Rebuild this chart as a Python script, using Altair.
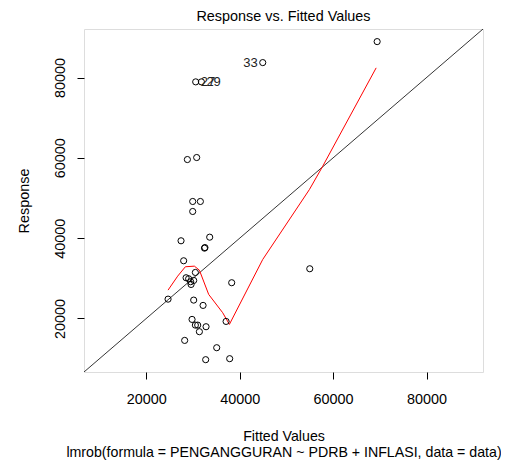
import altair as alt
import pandas as pd

# Observed points (fitted value, response)
fitted = [69430, 44930, 30570, 31790, 28790, 30780, 29930, 31570, 29930, 33570,
          27430, 32450, 32550, 27990, 30500, 28510, 29060, 29490, 30140, 29580,
          38280, 55000, 24650, 30140, 32150, 29790, 30500, 31000, 32790, 31360,
          37080, 28210, 35070, 32710, 37850]
response = [88960, 83730, 78930, 78930, 59580, 60080, 49130, 49130, 46640, 40240,
            39340, 37500, 37650, 34360, 31450, 30130, 29880, 29140, 29460, 28460,
            28890, 32370, 24800, 24560, 23240, 19750, 18330, 18330, 17930, 16690,
            19250, 14520, 12700, 9720, 9970]
point_ids = ["", "33", "27", "29", "", "", "", "", "", "",
             "", "", "", "", "", "", "", "", "", "",
             "", "", "", "", "", "", "", "", "", "",
             "", "", "", "", ""]
label_side = ["", "left", "right", "right", "", "", "", "", "", "",
              "", "", "", "", "", "", "", "", "", "",
              "", "", "", "", "", "", "", "", "", "",
              "", "", "", "", ""]

# Smoother (red)
smooth_x = [24650, 26710, 28360, 30290, 31360, 33350, 36350, 37790, 44930, 54930, 57780, 69220]
smooth_y = [27050, 30530, 32870, 33020, 32020, 25980, 21420, 18510, 34690, 52120, 57920, 82420]

axis_lo, axis_hi = 6650, 92100
tick_vals = [20000, 40000, 60000, 80000]

pts = pd.DataFrame({"fitted": fitted, "response": response, "id": point_ids, "side": label_side})
smooth = pd.DataFrame({"fitted": smooth_x, "response": smooth_y})
diag = pd.DataFrame({"fitted": [axis_lo, axis_hi], "response": [axis_lo, axis_hi]})

FONT = "Liberation Sans"
FS = 14.4

xscale = alt.Scale(domain=[axis_lo, axis_hi], nice=False, zero=False)
yscale = alt.Scale(domain=[axis_lo, axis_hi], nice=False, zero=False)

xaxis = alt.Axis(values=tick_vals, format="d", grid=False, tickSize=7, labelFontSize=FS,
                 labelPadding=13, labelColor="black", tickColor="black", domain=False,
                 title=["Fitted Values", "lmrob(formula = PENGANGGURAN ~ PDRB + INFLASI, data = data)"],
                 titleFontSize=14.2, titleFontWeight="normal", titleColor="black",
                 titleX=199.5, titleY=68, titleBaseline="alphabetic", titleLineHeight=16,
                 titleAlign="center", labelFont=FONT, titleFont=FONT, labelFlush=False)
yaxis = alt.Axis(values=tick_vals, format="d", grid=False, tickSize=7, labelFontSize=FS,
                 labelPadding=10, labelColor="black", tickColor="black", domain=False,
                 labelAngle=270, labelAlign="center", labelBaseline="bottom",
                 title="Response", titleFontSize=FS, titleFontWeight="normal", titleColor="black",
                 titleX=-53, titleY=171.5, titleAngle=270, titleAlign="center",
                 titleBaseline="bottom", labelFont=FONT, titleFont=FONT, labelFlush=False)

base_x = alt.X("fitted:Q", scale=xscale, axis=xaxis)
base_y = alt.Y("response:Q", scale=yscale, axis=yaxis)

diag_line = alt.Chart(diag).mark_line(color="black", strokeWidth=0.8, clip=True).encode(
    x=base_x, y=base_y)

points = alt.Chart(pts).mark_point(shape="circle", filled=False, color="black",
                                   size=38, strokeWidth=1, opacity=1).encode(
    x=alt.X("fitted:Q", scale=xscale), y=alt.Y("response:Q", scale=yscale))

smooth_line = alt.Chart(smooth).mark_line(color="red", strokeWidth=1).encode(
    x=alt.X("fitted:Q", scale=xscale), y=alt.Y("response:Q", scale=yscale))

lab_left = alt.Chart(pts).transform_filter(alt.datum.side == "left").mark_text(
    align="right", baseline="middle", dx=-5, fontSize=13, font=FONT, color="#222").encode(
    x=alt.X("fitted:Q", scale=xscale), y=alt.Y("response:Q", scale=yscale), text="id:N")

lab_right = alt.Chart(pts).transform_filter(alt.datum.side == "right").mark_text(
    align="left", baseline="middle", dx=5, fontSize=13, font=FONT, color="#222").encode(
    x=alt.X("fitted:Q", scale=xscale), y=alt.Y("response:Q", scale=yscale), text="id:N")

chart = alt.layer(diag_line, smooth_line, points, lab_left, lab_right).properties(
    width=399, height=343,
    title=alt.TitleParams("Response vs. Fitted Values", fontSize=FS, fontWeight="normal",
                          font=FONT, color="black", anchor="middle", offset=5),
    autosize=alt.AutoSizeParams(type="none"),
    padding={"left": 76, "top": 21, "right": 18, "bottom": 88},
).configure_view(stroke="black", strokeWidth=1).configure(background="white")

chart.save("out.html", embed_options={"renderer": "svg", "actions": False})
